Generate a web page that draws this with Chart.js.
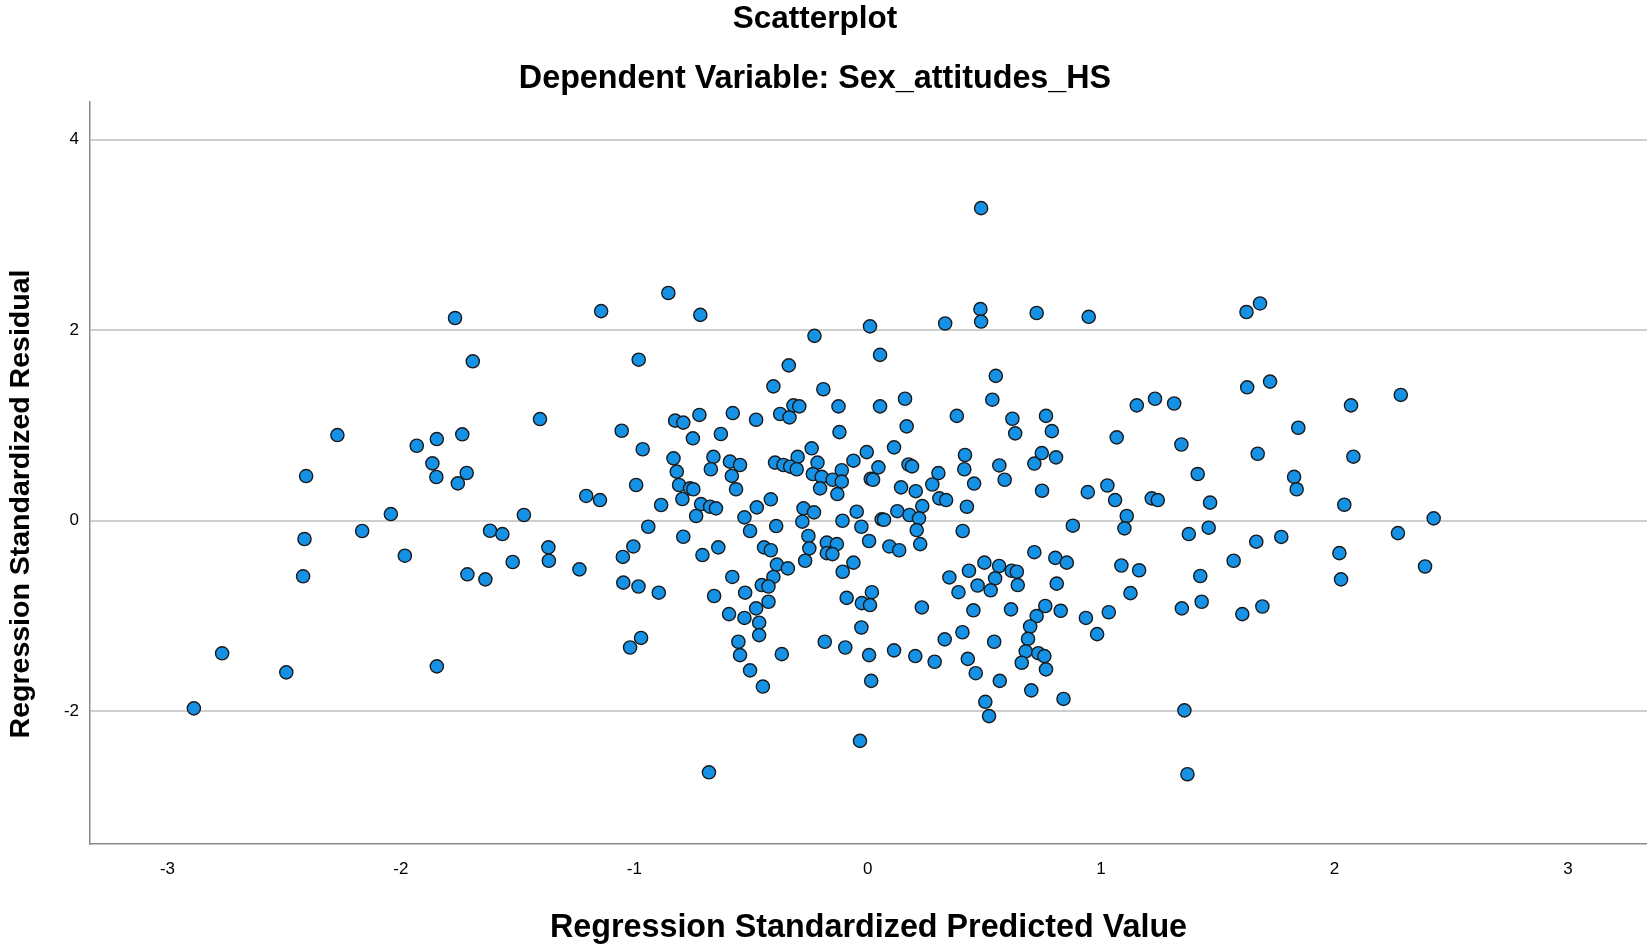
<!DOCTYPE html>
<html>
<head>
<meta charset="utf-8">
<script src="https://cdn.jsdelivr.net/npm/chart.js@4.4.1/dist/chart.umd.min.js"></script>
<style>
  html, body { margin: 0; padding: 0; background: #ffffff; }
  #wrap { position: relative; width: 1647px; height: 944px; }
</style>
</head>
<body>
<div id="wrap"><canvas id="c" width="1647" height="944"></canvas></div>
<script>
// ---- Chart text ----
const chartTitle = "Scatterplot";
const chartSubtitle = "Dependent Variable: Sex_attitudes_HS";
const xAxisTitle = "Regression Standardized Predicted Value";
const yAxisTitle = "Regression Standardized Residual";

// ---- Tick labels ----
const xTicks = [-3, -2, -1, 0, 1, 2, 3];
const yTicks = [-2, 0, 2, 4];

// ---- Series: regression standardized predicted value (x) ----
const predicted = [
 -1.768,-1.692,-1.404,-2.272,-1.932,-1.846,-1.737,-1.865,-1.848,-1.718,-1.756,-2.406,
 -2.043,-2.166,-2.413,-2.419,-1.983,-1.473,-1.618,-1.565,-1.368,-1.366,-1.521,-1.715,-1.638,
 -2.766,-2.491,-1.846,-2.887,
 -1.142,-0.854,-0.717,-0.981,-0.228,-0.338,-0.404,-0.190,
 -1.054,-0.964,-0.825,-0.790,-0.721,-0.578,-0.478,-0.375,-0.335,-0.318,-0.293,-0.749,
 -0.629,-0.832,-0.818,-0.661,-0.672,-0.590,-0.547,-0.582,-0.564,-0.240,-0.300,-0.397,
 -0.361,-0.332,-0.304,-0.215,-0.235,-0.197,-0.204,-0.992,-1.206,-1.147,-0.885,-0.808,
 -0.761,-0.747,-0.794,-0.714,-0.675,-0.650,-0.735,-0.415,-0.475,-0.528,-0.504,-0.392,
 -0.275,-0.230,-0.280,-0.254,-0.250,-0.268,-0.175,-0.940,-0.790,-0.640,-0.708,-1.004,
 -1.049,-1.235,-1.047,-0.982,-0.895,-0.658,-0.580,-0.525,-0.444,-0.415,-0.389,-0.342,
 -0.404,-0.454,-0.425,
 -0.425,-0.594,-0.528,-0.478,-0.465,-0.465,-0.554,-0.547,-0.504,-0.449,-0.368,-0.971,-1.018,-0.680,
 0.486,0.010,0.332,0.483,0.486,0.724,0.947,0.053,0.549,0.160,0.534,
 -0.125,0.053,-0.121,0.167,0.382,0.620,0.632,0.764,0.789,-0.004,0.113,-0.061,-0.111,
 0.046,0.013,0.023,-0.150,-0.111,-0.130,0.175,0.190,0.143,0.206,0.277,0.303,0.417,
 0.414,0.456,0.564,0.587,0.714,0.746,0.807,0.747,0.943,0.307,0.336,0.425,0.234,0.127,
 0.179,0.220,0.210,0.225,-0.047,-0.108,-0.027,0.060,0.070,0.006,0.093,0.135,0.407,
 0.879,-0.132,-0.175,-0.151,-0.061,-0.107,-0.090,0.018,0.714,0.804,0.853,0.810,0.500,
 0.563,0.434,0.350,0.471,0.546,0.527,0.617,0.639,0.643,0.389,
 -0.025,0.010,0.232,0.453,0.614,0.761,0.827,0.935,0.724,0.696,0.687,0.677,0.660,0.731,
 0.757,0.764,0.701,0.839,0.406,0.330,0.542,0.429,0.463,0.566,0.504,0.520,-0.027,-0.184,
 -0.096,0.006,0.113,0.204,0.287,0.015,-0.033,
 1.623,1.681,1.626,1.724,1.153,1.231,1.313,2.071,2.284,1.067,1.344,1.845,1.671,2.081,
 1.414,1.827,1.838,1.027,
 1.060,1.217,1.243,1.467,2.042,1.110,1.100,1.376,1.461,2.425,2.272,1.665,1.772,2.021,
 2.388,2.028,1.568,1.087,1.163,1.425,1.126,1.431,1.346,1.605,1.691,1.033,0.983,1.357,1.370
];

// ---- Series: regression standardized residual (y) ----
const residual = [
 2.127,1.673,1.067,0.899,0.787,0.857,0.907,0.602,0.459,0.501,0.392,0.469,
 0.070,-0.108,-0.192,-0.583,-0.367,0.060,-0.105,-0.140,-0.279,-0.420,-0.433,-0.562,-0.615,
 -1.391,-1.591,-1.528,-1.969,
 2.20,2.39,2.16,1.69,1.94,1.63,1.41,1.38,
 0.944,0.75,1.05,1.03,1.11,1.13,1.06,1.12,1.085,1.21,1.20,0.865,
 0.91,0.655,0.515,0.67,0.54,0.62,0.585,0.47,0.33,0.76,0.67,0.61,
 0.585,0.567,0.54,0.61,0.49,0.46,0.34,0.375,0.26,0.217,0.165,0.375,
 0.34,0.33,0.228,0.175,0.147,0.13,0.05,0.225,0.14,0.035,-0.108,-0.056,
 0.13,0.088,-0.01,-0.16,-0.29,-0.42,-0.23,-0.063,-0.168,-0.28,-0.36,-0.27,
 -0.38,-0.51,-0.65,-0.69,-0.755,-0.79,-0.59,-0.755,-0.28,-0.31,-0.46,-0.50,
 -0.59,-0.675,-0.69,
 -0.85,-0.98,-1.02,-0.92,-1.07,-1.20,-1.27,-1.41,-1.57,-1.74,-1.40,-1.23,-1.33,-2.64,
 3.28,2.04,2.07,2.22,2.09,2.18,2.14,1.74,1.52,1.28,1.27,
 1.20,1.20,0.93,0.99,1.10,1.07,0.917,1.10,0.94,0.72,0.77,0.63,0.53,
 0.56,0.44,0.43,0.43,0.41,0.28,0.59,0.57,0.35,0.31,0.38,0.50,0.69,
 0.54,0.39,0.58,0.43,0.60,0.71,0.665,0.315,0.30,0.235,0.217,0.147,0.154,0.10,
 0.06,0.025,-0.098,-0.245,0.095,0.0,-0.063,0.015,0.01,-0.213,-0.27,-0.31,-0.108,
 -0.052,-0.245,-0.34,-0.35,-0.44,-0.535,-0.81,-0.75,-0.33,-0.39,-0.44,-0.66,-0.44,
 -0.475,-0.525,-0.595,-0.68,-0.605,-0.73,-0.525,-0.535,-0.675,-0.75,
 -0.865,-0.885,-0.91,-0.94,-0.93,-0.895,-0.945,-1.02,-1.0,-1.11,-1.24,-1.37,-1.49,-1.39,
 -1.42,-1.56,-1.78,-1.87,-1.17,-1.245,-1.27,-1.45,-1.60,-1.68,-1.90,-2.05,-1.12,-1.27,
 -1.33,-1.41,-1.36,-1.42,-1.48,-1.68,-2.31,
 2.19,2.28,1.40,1.46,1.21,1.28,1.23,1.21,1.32,0.875,0.80,0.976,0.703,0.672,
 0.49,0.46,0.33,0.37,
 0.217,0.235,0.217,0.19,0.168,0.05,-0.08,-0.14,-0.073,0.025,-0.13,-0.22,-0.17,-0.34,
 -0.48,-0.615,-0.42,-0.47,-0.52,-0.58,-0.76,-0.85,-0.92,-0.98,-0.90,-0.96,-1.19,-1.99,-2.66
];

const points = predicted.map((x, i) => ({ x: x, y: residual[i] }));

const FONT = '"Liberation Sans", Arial, Helvetica, sans-serif';

const textPlugin = {
  id: 'spssTexts',
  afterDraw(chart) {
    const ctx = chart.ctx;
    const area = chart.chartArea;
    ctx.save();
    ctx.fillStyle = '#000000';
    ctx.textAlign = 'center';
    ctx.textBaseline = 'alphabetic';
    ctx.font = 'bold 31.5px ' + FONT;
    ctx.fillText(chartTitle, 815, 27.5);
    ctx.font = 'bold 32.3px ' + FONT;
    ctx.fillText(chartSubtitle, 815, 87.5);
    ctx.font = 'bold 32.3px ' + FONT;
    ctx.fillText(xAxisTitle, (area.left + area.right) / 2, 937);
    ctx.translate(28.5, 504);
    ctx.rotate(-Math.PI / 2);
    ctx.font = 'bold 28.5px ' + FONT;
    ctx.fillText(yAxisTitle, 0, 0);
    ctx.restore();
  }
};

new Chart(document.getElementById('c'), {
  type: 'scatter',
  data: {
    datasets: [{
      label: 'Residuals',
      data: points,
      backgroundColor: '#1591e5',
      borderColor: '#1a1a1a',
      borderWidth: 1.4,
      pointRadius: 6.6,
      pointHoverRadius: 6.6
    }]
  },
  options: {
    responsive: false,
    animation: false,
    events: [],
    layout: { padding: { top: 102, left: 0, right: 0, bottom: 0 }, autoPadding: false },
    plugins: {
      legend: { display: false },
      title: { display: false },
      tooltip: { enabled: false }
    },
    scales: {
      x: {
        type: 'linear',
        min: -3.332,
        max: 3.339,
        afterFit: (s) => { s.height = 100.5; },
        afterBuildTicks: (s) => { s.ticks = xTicks.map(v => ({ value: v })); },
        grid: { display: false, drawTicks: false },
        border: { display: true, color: '#8a8a8a', width: 1.5 },
        ticks: {
          color: '#000000',
          font: { family: FONT, size: 17 },
          padding: 16,
          maxRotation: 0,
          callback: (v) => String(v)
        }
      },
      y: {
        type: 'linear',
        min: -3.387,
        max: 4.394,
        afterFit: (s) => { s.width = 90; },
        afterBuildTicks: (s) => { s.ticks = yTicks.map(v => ({ value: v })); },
        grid: { display: true, color: '#cfcfcf', lineWidth: 2, drawTicks: false },
        border: { display: true, color: '#8a8a8a', width: 1.5 },
        ticks: {
          color: '#000000',
          font: { family: FONT, size: 17 },
          padding: 11,
          callback: (v) => String(v)
        }
      }
    }
  },
  plugins: [textPlugin]
});
</script>
</body>
</html>
